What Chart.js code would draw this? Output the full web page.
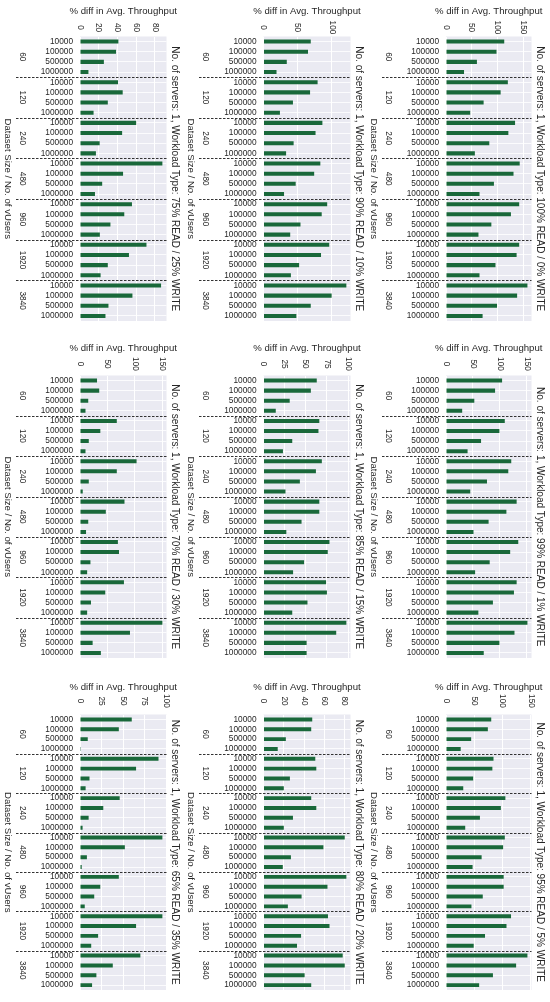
<!DOCTYPE html>
<html>
<head>
<meta charset="utf-8">
<script src="https://cdn.jsdelivr.net/npm/chart.js@4/dist/chart.umd.min.js"></script>
<style>
  html, body { margin: 0; padding: 0; background: #ffffff; }
  body { width: 550px; height: 1002px; position: relative; overflow: hidden; }
  canvas { position: absolute; }
</style>
</head>
<body>
<script>
// ---------------- DATA ----------------
const groups = ['60', '120', '240', '480', '960', '1920', '3840'];
const sizes = ['10000', '100000', '500000', '1000000'];
const workloads = [
  '75% READ / 25% WRITE', '90% READ / 10% WRITE', '100% READ / 0% WRITE',
  '70% READ / 30% WRITE', '85% READ / 15% WRITE', '99% READ / 1% WRITE',
  '65% READ / 35% WRITE', '80% READ / 20% WRITE', '95% READ / 5% WRITE'
];
const tickSteps = [20, 50, 50, 50, 25, 50, 25, 20, 50];

// values per group (60,120,240,480,960,1920,3840) x dataset size (10000,100000,500000,1000000)
const read75  = [41, 38.5, 25.5, 9,   40.6, 45.6, 29.7, 14.5, 60, 45, 21, 17,   88, 46, 23.7, 16,  55.5, 47.3, 32.5, 21.2, 71, 52.3, 29.7, 22, 86.6, 56, 30.4, 27.2];
const read90  = [69, 65, 34, 19,      79, 68, 43, 24,       86, 76, 44, 33,       83, 74, 47, 30,    93, 85, 54, 39,       96, 84, 52, 40,       121, 99.5, 69, 48];
const read100 = [113, 98, 60, 35,     120, 106, 73, 47,     134, 121, 84, 56,     143, 131, 93, 65,  142, 126, 88, 63,     142, 137, 96, 65,     158, 138, 99, 71];
const read70  = [31, 35, 15, 10,      67, 37, 16, 10,       103, 67, 16, 5,       81, 47, 15, 11,    69, 71, 19, 13,       80, 46, 20, 13,       150, 91, 23, 38];
const read85  = [63, 56, 31, 14.5,    66, 65, 34, 23,       69, 62, 43, 26,       66, 66, 45, 27,    78, 76, 48, 35,       74, 75, 52, 34,       98, 86, 51, 51];
const read99  = [104, 91, 52.5, 30,   109, 99, 65, 40,      121, 115.5, 76, 45,   131, 112, 79, 51,  134, 119, 81, 54,     131, 126, 87, 60,     151, 127, 99, 70];
const read65  = [60, 45, 9, 1,        91, 65, 11, 6.5,      46, 27, 10, 3,        95.5, 52, 8, 2,    45, 23.5, 16.5, 5.5,  95.5, 65, 21, 13,     70, 38, 19, 14];
const read80  = [48, 47, 22, 14,      51, 52, 26, 20,       47, 52, 29, 20,       80, 59, 27, 19,    81.6, 63, 37.5, 24,   63.5, 65, 37, 33,     78, 80, 40.5, 47];
const read95  = [80, 74, 44.5, 26,    84, 82, 48, 30.5,     105, 97, 60, 34,      104, 101, 63, 47,  102, 102, 65, 45,     115, 107, 69, 49,     144, 124, 83, 58.6];

const panelData = [read75, read90, read100, read70, read85, read99, read65, read80, read95];
const categoryLabels = groups.flatMap(() => sizes);

// ---------------- LAYOUT / STYLE ----------------
const FONT = "'Liberation Sans', Arial, Helvetica, sans-serif";
const TEXT = '#262626';
const BAR = '#19683a';
const BG = '#EAEAF2';
const colLeft = [0, 183, 366], colWidth = [183, 183, 184];
const rowTop = [0, 333, 670], rowHeight = [333, 337, 332];
const plotX = [[80, 166.5], [263.5, 350.5], [446, 531.5]];
const plotY = [[36.5, 328.5], [375.5, 658.5], [714.5, 999]];
const tickY = [27.5, 364, 701];
const axisTitleY = [11, 348.5, 687];

Chart.defaults.font.family = FONT;
Chart.defaults.color = TEXT;

function rotText(ctx, s, x, y) {
  ctx.save();
  ctx.translate(x, y);
  ctx.rotate(Math.PI / 2);
  ctx.textAlign = 'center';
  ctx.textBaseline = 'middle';
  ctx.fillText(s, 0, 0);
  ctx.restore();
}

const panelText = {
  id: 'panelText',
  beforeDraw(chart) {
    const { ctx, chartArea: a } = chart;
    ctx.save();
    ctx.fillStyle = BG;
    ctx.fillRect(a.left, a.top, a.right - a.left, a.bottom - a.top);
    ctx.restore();
  },
  afterDraw(chart) {
    const o = chart.options.plugins.panelText;
    const { ctx, chartArea: a } = chart;
    const xs = chart.scales.x, ys = chart.scales.y;
    ctx.save();
    ctx.fillStyle = TEXT;
    // x tick labels (rotated clockwise)
    ctx.font = `8.3px ${FONT}`;
    xs.ticks.forEach(t => rotText(ctx, String(t.value), xs.getPixelForValue(t.value), o.tickY));
    // x axis title
    ctx.font = `9.6px ${FONT}`;
    ctx.textAlign = 'center';
    ctx.textBaseline = 'middle';
    ctx.fillText('% diff in Avg. Throughput', (a.left + a.right) / 2, o.titleY);
    // group labels and dashed separators
    ctx.font = `8.3px ${FONT}`;
    groups.forEach((g, i) => {
      const y0 = ys.getPixelForValue(i * 4);
      const y3 = ys.getPixelForValue(i * 4 + 3);
      ctx.fillStyle = TEXT;
      rotText(ctx, g, 22, (y0 + y3) / 2);
      if (i > 0) {
        const yb = (ys.getPixelForValue(i * 4 - 1) + y0) / 2;
        ctx.save();
        ctx.strokeStyle = '#333333';
        ctx.lineWidth = 1;
        ctx.setLineDash([2.5, 1.5]);
        ctx.beginPath();
        ctx.moveTo(16, Math.round(yb) + 0.5);
        ctx.lineTo(a.right, Math.round(yb) + 0.5);
        ctx.stroke();
        ctx.restore();
      }
    });
    // y axis title
    ctx.font = `9.6px ${FONT}`;
    rotText(ctx, 'Dataset Size / No. of vUsers', 8, (a.top + a.bottom) / 2);
    // panel title on the right
    ctx.font = `10px ${FONT}`;
    rotText(ctx, 'No. of servers: 1, Workload Type: ' + o.workload, a.right + 8, (a.top + a.bottom) / 2);
    ctx.restore();
  }
};

for (let p = 0; p < 9; p++) {
  const r = Math.floor(p / 3), c = p % 3;
  const cv = document.createElement('canvas');
  cv.width = colWidth[c];
  cv.height = rowHeight[r];
  cv.style.left = colLeft[c] + 'px';
  cv.style.top = rowTop[r] + 'px';
  cv.style.width = colWidth[c] + 'px';
  cv.style.height = rowHeight[r] + 'px';
  document.body.appendChild(cv);

  const values = panelData[p];
  const step = tickSteps[p];
  const xMax = Math.max(...values) * 1.05;
  const leftW = plotX[c][0] - colLeft[c];
  const padTop = plotY[r][0] - rowTop[r];
  const padRight = colLeft[c] + colWidth[c] - plotX[c][1];
  const padBottom = rowTop[r] + rowHeight[r] - plotY[r][1];

  new Chart(cv, {
    type: 'bar',
    data: {
      labels: categoryLabels,
      datasets: [{
        data: values,
        backgroundColor: BAR,
        borderWidth: 0,
        barPercentage: 0.4,
        categoryPercentage: 1.0
      }]
    },
    options: {
      indexAxis: 'y',
      responsive: false,
      animation: false,
      devicePixelRatio: 1,
      layout: { padding: { left: 0, top: padTop, right: padRight, bottom: padBottom } },
      plugins: {
        legend: { display: false },
        tooltip: { enabled: false },
        panelText: { workload: workloads[p], tickY: tickY[r] - rowTop[r], titleY: axisTitleY[r] - rowTop[r] }
      },
      scales: {
        x: {
          type: 'linear',
          position: 'top',
          min: 0,
          max: xMax,
          ticks: { display: false },
          grid: { color: '#ffffff', lineWidth: 1, drawTicks: false },
          border: { display: false },
          afterBuildTicks(scale) {
            const t = [];
            for (let v = 0; v <= xMax + 1e-9; v += step) t.push({ value: v });
            scale.ticks = t;
          },
          afterFit(scale) { scale.height = 0; }
        },
        y: {
          type: 'category',
          offset: true,
          ticks: { autoSkip: false, font: { size: 8.3 }, color: TEXT, padding: 7 },
          grid: { color: '#ffffff', lineWidth: 0.8, offset: false, drawTicks: false },
          border: { display: false },
          afterFit(scale) { scale.width = leftW; }
        }
      }
    },
    plugins: [panelText]
  });
}
</script>
</body>
</html>
